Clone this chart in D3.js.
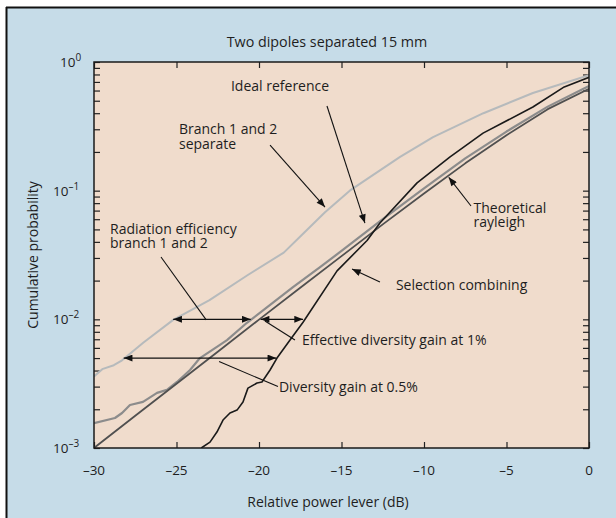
<!DOCTYPE html>
<html><head><meta charset="utf-8">
<script src="https://cdn.jsdelivr.net/npm/d3@7"></script>
<style>
body{margin:0;background:#fff}
svg{display:block}
text{font-family:"Open Sans",sans-serif;fill:#1e1e1e}
</style>
</head><body>
<svg id="chart" width="616" height="518"></svg>
<script>
// ---------- data ----------
const title = "Two dipoles separated 15 mm";
const xLabel = "Relative power lever (dB)";
const yLabel = "Cumulative probability";
const xTickValues = [-30, -25, -20, -15, -10, -5, 0];
const yDecadeExponents = [0, -1, -2, -3];

// [relative power dB, cumulative probability]
const branchSeparate = [
  [-30, 0.0036], [-29.5, 0.0041], [-28.8, 0.0044], [-28.3, 0.0048], [-27.0, 0.0066],
  [-25.2, 0.0099], [-23.0, 0.0141], [-20.7, 0.022], [-18.5, 0.033], [-17.5, 0.044],
  [-16.0, 0.068], [-14.5, 0.100], [-11.45, 0.183], [-9.45, 0.261], [-6.4, 0.40],
  [-3.4, 0.574], [0, 0.79]
];
const idealReference = [
  [-30, 0.00156], [-28.73, 0.00171], [-28.3, 0.00187], [-27.82, 0.00216], [-27.03, 0.00228],
  [-26.18, 0.00268], [-25.58, 0.00283], [-24.97, 0.00326], [-24.18, 0.00404], [-23.58, 0.0050],
  [-22.55, 0.0061], [-21.94, 0.0069], [-20.73, 0.0094], [-17.94, 0.0178], [-16.3, 0.0255],
  [-15, 0.034], [-12.5, 0.060], [-10, 0.104], [-7.5, 0.178], [-5, 0.288], [-2.5, 0.45], [0, 0.65]
];
const theoreticalRayleigh = [
  [-30, 0.001], [-27.5, 0.00178], [-25, 0.00316], [-22.5, 0.0056], [-20, 0.00995],
  [-17.5, 0.0176], [-15, 0.031], [-12.5, 0.0547], [-10, 0.095], [-7.5, 0.163],
  [-5, 0.27], [-2.5, 0.43], [0, 0.62]
];
const selectionCombining = [
  [-23.5, 0.001], [-22.97, 0.00111], [-22.55, 0.00133], [-22.18, 0.00165], [-21.76, 0.00187],
  [-21.33, 0.00197], [-20.97, 0.00228], [-20.67, 0.00292], [-20.12, 0.0032], [-19.82, 0.00326],
  [-19.33, 0.00404], [-18.91, 0.0050], [-18.12, 0.0069], [-17.33, 0.0095], [-15.27, 0.0238],
  [-13.45, 0.041], [-12.67, 0.056], [-10.42, 0.115], [-8.42, 0.183], [-6.42, 0.28],
  [-3.4, 0.447], [-1.5, 0.64], [0, 0.76]
];

// double-headed measurement arrows: [dB from, dB to, probability]
const gainArrows = [
  [-25.2, -20.5, 0.01],
  [-19.9, -17.33, 0.01],
  [-28.2, -18.95, 0.005]
];

// labels with pointer lines: text lines, text anchor (dB,p), pointer from/to (dB,p), arrowhead?
const annotations = [
  {lines: ["Ideal reference"], at: [-21.7, 0.595], gap: 14, from: [-15.88, 0.455], to: [-13.58, 0.056], head: true},
  {lines: ["Branch 1 and 2", "separate"], at: [-24.85, 0.276], gap: 15, from: [-19.33, 0.226], to: [-16.0, 0.0746], head: true},
  {lines: ["Theoretical", "rayleigh"], at: [-7.0, 0.0671], gap: 14, from: [-7.15, 0.076], to: [-8.5, 0.127], head: true},
  {lines: ["Selection combining"], at: [-11.7, 0.0169], gap: 14, from: [-12.67, 0.0195], to: [-14.36, 0.0246], head: true},
  {lines: ["Radiation efficiency", "branch 1 and 2"], at: [-29.03, 0.0461], gap: 14, from: [-25.94, 0.0305], to: [-23.2, 0.0099], head: false},
  {lines: ["Effective diversity gain at 1%"], at: [-17.39, 0.00632], gap: 14, from: [-17.82, 0.0069], to: [-19.64, 0.0097], head: false},
  {lines: ["Diversity gain at 0.5%"], at: [-18.79, 0.002725], gap: 14, from: [-18.85, 0.0030], to: [-22.42, 0.0047], head: false}
];

// ---------- drawing ----------
const svg = d3.select("#chart");
const W = 616, H = 518;
const L = 94, R = 589, T = 62, B = 448;

const x = d3.scaleLinear().domain([-30, 0]).range([L, R]);
const y = d3.scaleLog().domain([1e-3, 1]).range([B, T]);

// background panel with frame on top and left
svg.append("rect").attr("x", 7).attr("y", 8).attr("width", W - 7).attr("height", H - 8).attr("fill", "#c6dce8");
svg.append("line").attr("x1", 6.5).attr("x2", 6.5).attr("y1", 7).attr("y2", H).attr("stroke", "#111").attr("stroke-width", 2);
svg.append("line").attr("x1", 6).attr("x2", W).attr("y1", 7.5).attr("y2", 7.5).attr("stroke", "#111").attr("stroke-width", 2);

// plot area
svg.append("rect").attr("x", L).attr("y", T).attr("width", R - L).attr("height", B - T).attr("fill", "#f0dccc");

const defs = svg.append("defs");
defs.append("clipPath").attr("id", "clip").append("rect").attr("x", L).attr("y", T).attr("width", R - L).attr("height", B - T);
defs.append("marker").attr("id", "head").attr("viewBox", "0 0 10 8").attr("refX", 10).attr("refY", 4)
  .attr("markerWidth", 10).attr("markerHeight", 7).attr("markerUnits", "userSpaceOnUse")
  .attr("orient", "auto-start-reverse")
  .append("path").attr("d", "M0,0 L10,4 L0,8 Z").attr("fill", "#111");

// axes (ticks inside on all four sides)
const minorTicks = [];
for (let e = -3; e < 0; e++) for (let m = 1; m < 10; m++) minorTicks.push(m * Math.pow(10, e));
minorTicks.push(1);

const tickLen = 6;
svg.append("g").attr("transform", `translate(${L},0)`)
  .call(d3.axisRight(y).tickValues(minorTicks).tickSize(tickLen).tickFormat(""))
  .call(g => g.select(".domain").remove())
  .selectAll("line").attr("stroke", "#222").attr("stroke-width", 1.2);
svg.append("g").attr("transform", `translate(${R},0)`)
  .call(d3.axisLeft(y).tickValues(minorTicks).tickSize(tickLen).tickFormat(""))
  .call(g => g.select(".domain").remove())
  .selectAll("line").attr("stroke", "#222").attr("stroke-width", 1.2);
svg.append("g").attr("transform", `translate(0,${B})`)
  .call(d3.axisTop(x).tickValues(xTickValues).tickSize(tickLen).tickFormat(""))
  .call(g => g.select(".domain").remove())
  .selectAll("line").attr("stroke", "#222").attr("stroke-width", 1.2);
svg.append("g").attr("transform", `translate(0,${T})`)
  .call(d3.axisBottom(x).tickValues(xTickValues).tickSize(tickLen).tickFormat(""))
  .call(g => g.select(".domain").remove())
  .selectAll("line").attr("stroke", "#222").attr("stroke-width", 1.2);

// x tick labels
svg.append("g").selectAll("text").data(xTickValues).join("text")
  .attr("x", d => x(d)).attr("y", 475).attr("text-anchor", "middle").attr("font-size", 13.5)
  .text(d => d === 0 ? "0" : "\u2013" + Math.abs(d));

// y tick labels 10^e
const yl = svg.append("g").selectAll("text").data(yDecadeExponents).join("text")
  .attr("y", d => y(Math.pow(10, d)) + 5).attr("font-size", 13.5)
  .attr("x", d => d === 0 ? 60 : 53);
yl.append("tspan").text("10");
yl.append("tspan").attr("font-size", 10).attr("dy", -6).text(d => d === 0 ? "0" : "\u2013" + Math.abs(d));

// series
const line = d3.line().x(d => x(d[0])).y(d => y(d[1]));
const plot = svg.append("g").attr("clip-path", "url(#clip)");
const series = [
  {data: branchSeparate, color: "#b6babc", w: 2},
  {data: idealReference, color: "#8c8c8c", w: 2.2},
  {data: theoreticalRayleigh, color: "#505050", w: 1.8},
  {data: selectionCombining, color: "#1a1a1a", w: 1.6}
];
plot.selectAll("path.s").data(series).join("path").attr("class", "s")
  .attr("d", d => line(d.data)).attr("fill", "none")
  .attr("stroke", d => d.color).attr("stroke-width", d => d.w)
  .attr("stroke-linejoin", "round");

// plot frame
svg.append("rect").attr("x", L).attr("y", T).attr("width", R - L).attr("height", B - T)
  .attr("fill", "none").attr("stroke", "#1a1a1a").attr("stroke-width", 1.5);

// gain arrows
svg.append("g").selectAll("line").data(gainArrows).join("line")
  .attr("x1", d => x(d[0])).attr("x2", d => x(d[1]))
  .attr("y1", d => y(d[2])).attr("y2", d => y(d[2]))
  .attr("stroke", "#111").attr("stroke-width", 1.3)
  .attr("marker-start", "url(#head)").attr("marker-end", "url(#head)");

// annotations
const ag = svg.append("g");
annotations.forEach(a => {
  ag.append("line")
    .attr("x1", x(a.from[0])).attr("y1", y(a.from[1]))
    .attr("x2", x(a.to[0])).attr("y2", y(a.to[1]))
    .attr("stroke", "#111").attr("stroke-width", 1.1)
    .attr("marker-end", a.head ? "url(#head)" : null);
  const t = ag.append("text").attr("x", x(a.at[0])).attr("y", y(a.at[1])).attr("font-size", 14);
  a.lines.forEach((s, i) => t.append("tspan").attr("x", x(a.at[0])).attr("dy", i === 0 ? 0 : a.gap).text(s));
});

// titles
svg.append("text").attr("x", 327).attr("y", 47).attr("text-anchor", "middle").attr("font-size", 14.3).text(title);
svg.append("text").attr("x", 328).attr("y", 507).attr("text-anchor", "middle").attr("font-size", 14).text(xLabel);
svg.append("text").attr("transform", "translate(38,255) rotate(-90)").attr("text-anchor", "middle").attr("font-size", 14).text(yLabel);
</script>
</body></html>
